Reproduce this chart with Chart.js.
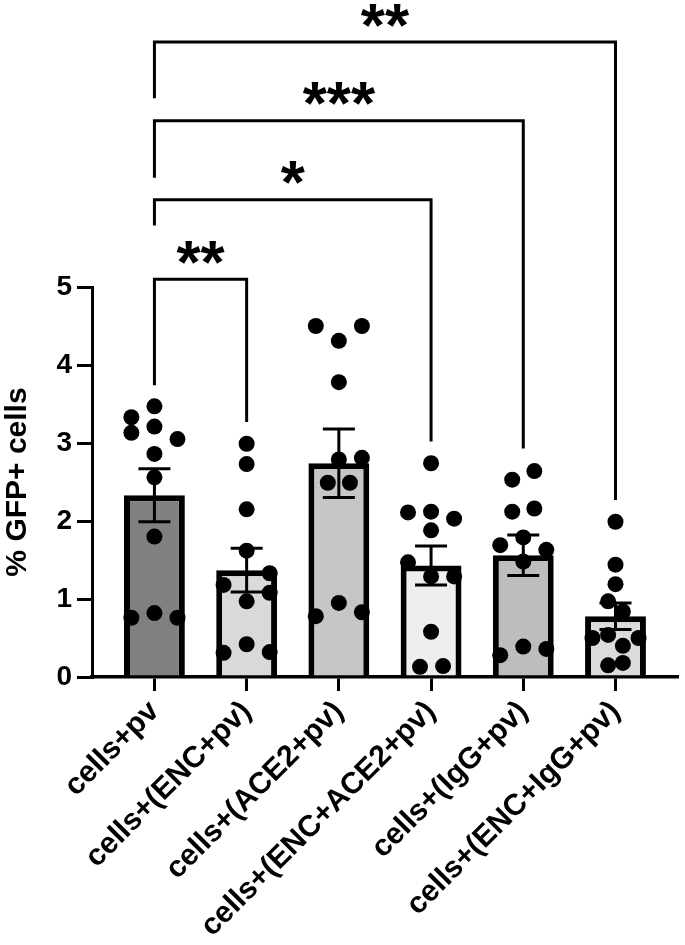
<!DOCTYPE html>
<html>
<head>
<meta charset="utf-8">
<script src="https://cdn.jsdelivr.net/npm/chart.js@4"></script>
<style>
  body { margin: 0; background: #fff; }
  #wrap { width: 685px; height: 945px; }
</style>
</head>
<body>
<div id="wrap"><canvas id="chart" width="685" height="945"></canvas></div>
<script>
// groups on the x axis
const categories = ['cells+pv', 'cells+(ENC+pv)', 'cells+(ACE2+pv)', 'cells+(ENC+ACE2+pv)', 'cells+(IgG+pv)', 'cells+(ENC+IgG+pv)'];

// bar heights (mean) and SEM
const means = [2.33, 1.37, 2.74, 1.43, 1.56, 0.78];
const sems = [0.34, 0.28, 0.44, 0.25, 0.26, 0.17];

// individual replicates per group
const points = [
  [3.47, 3.33, 3.21, 3.13, 3.05, 2.86, 2.56, 1.80, 0.76, 0.82, 0.76],
  [2.99, 2.73, 2.15, 1.62, 1.33, 1.18, 1.08, 0.97, 0.31, 0.42, 0.32],
  [4.50, 4.50, 4.31, 3.78, 2.79, 2.81, 2.49, 2.49, 0.95, 0.78, 0.83],
  [2.74, 2.11, 2.12, 2.03, 1.88, 1.47, 1.29, 1.29, 0.58, 0.13, 0.14],
  [2.64, 2.53, 2.12, 2.16, 1.79, 1.69, 1.63, 1.48, 0.39, 0.28, 0.36],
  [1.99, 1.44, 1.19, 0.97, 0.84, 0.50, 0.54, 0.50, 0.40, 0.15, 0.18]
];

// horizontal scatter of the dots (in category units)
const jitter = [
  [0, -0.25, 0, -0.25, 0.25, 0, 0, 0, -0.25, 0, 0.25],
  [0, 0, 0, 0, 0.25, -0.25, 0.25, 0, -0.25, 0, 0.25],
  [-0.25, 0.25, 0, 0, 0, 0.25, -0.12, 0.12, 0, -0.25, 0.25],
  [0, -0.25, 0, 0.25, 0, -0.25, 0, 0.25, 0, -0.12, 0.13],
  [0.12, -0.12, -0.12, 0.12, 0, -0.25, 0.25, 0, 0, -0.25, 0.25],
  [0, 0, 0, -0.08, 0.08, -0.25, -0.08, 0.25, 0.08, -0.08, 0.08]
];

const barColors = ['#808080', '#d9d9d9', '#c6c6c6', '#eeeeee', '#bdbdbd', '#dbdbdb'];

// significance brackets
const compFrom = [0, 0, 0, 0];
const compTo = [1, 3, 4, 5];
const compLevel = [5.10, 6.12, 7.13, 8.14];
const compLeftEnd = [3.74, 5.79, 6.40, 7.42];
const compRightEnd = [3.27, 3.02, 2.93, 2.27];
const compStars = ['**', '*', '***', '**'];

const FONT = '"Liberation Sans", Arial, sans-serif';

const scatterData = [];
points.forEach((grp, i) => grp.forEach((v, j) => scatterData.push({ x: i + jitter[i][j], y: v })));

const overlay = {
  id: 'overlay',
  afterDatasetsDraw(chart) {
    const ctx = chart.ctx;
    const xs = chart.scales.x, ys = chart.scales.y;
    ctx.save();
    ctx.strokeStyle = '#000';
    ctx.lineWidth = 3;
    ctx.lineCap = 'butt';
    // error bars
    means.forEach((m, i) => {
      const x = xs.getPixelForValue(i);
      const top = ys.getPixelForValue(m + sems[i]);
      const bot = ys.getPixelForValue(m - sems[i]);
      ctx.beginPath();
      ctx.moveTo(x, top); ctx.lineTo(x, bot);
      ctx.moveTo(x - 16, top); ctx.lineTo(x + 16, top);
      ctx.moveTo(x - 16, bot); ctx.lineTo(x + 16, bot);
      ctx.stroke();
    });
    // brackets
    ctx.lineJoin = 'miter';
    ctx.font = 'bold 62px ' + FONT;
    ctx.fillStyle = '#000';
    ctx.textAlign = 'center';
    ctx.textBaseline = 'alphabetic';
    compLevel.forEach((lv, k) => {
      const x1 = xs.getPixelForValue(compFrom[k]);
      const x2 = xs.getPixelForValue(compTo[k]);
      const y = ys.getPixelForValue(lv);
      ctx.beginPath();
      ctx.moveTo(x1, ys.getPixelForValue(compLeftEnd[k]));
      ctx.lineTo(x1, y);
      ctx.lineTo(x2, y);
      ctx.lineTo(x2, ys.getPixelForValue(compRightEnd[k]));
      ctx.stroke();
      const m = ctx.measureText(compStars[k]);
      const cy = y - 27;
      const base = cy + (m.actualBoundingBoxAscent - m.actualBoundingBoxDescent) / 2;
      ctx.fillText(compStars[k], (x1 + x2) / 2, base);
    });
    ctx.restore();
  }
};

new Chart(document.getElementById('chart'), {
  type: 'bar',
  data: {
    datasets: [
      {
        type: 'scatter',
        data: scatterData,
        backgroundColor: '#000',
        borderWidth: 0,
        pointRadius: 8,
        pointHoverRadius: 8,
        order: 1
      },
      {
        type: 'bar',
        data: means.map((m, i) => ({ x: i, y: m })),
        backgroundColor: barColors,
        borderColor: '#000',
        borderWidth: 6,
        borderSkipped: 'bottom',
        barPercentage: 0.66,
        categoryPercentage: 1,
        order: 2
      }
    ]
  },
  options: {
    responsive: false,
    animation: false,
    layout: { padding: { top: 287, right: 3, left: 0, bottom: 0 } },
    plugins: { legend: { display: false }, tooltip: { enabled: false } },
    scales: {
      x: {
        type: 'linear',
        position: 'bottom',
        offset: false,
        min: -0.677,
        max: 5.667,
        afterBuildTicks: s => { s.ticks = categories.map((c, i) => ({ value: i })); },
        afterFit: s => { s.height = 268; },
        ticks: {
          autoSkip: false,
          minRotation: 45,
          maxRotation: 45,
          padding: 3,
          color: '#000',
          font: { family: FONT, size: 30, weight: 'bold' },
          callback: v => categories[v]
        },
        grid: { offset: false, drawOnChartArea: false, tickLength: 14, lineWidth: 3, color: '#000' },
        border: { display: true, width: 3.5, color: '#000' }
      },
      y: {
        min: 0,
        max: 5,
        afterFit: s => { s.width = 92; },
        ticks: {
          stepSize: 1,
          padding: 5,
          color: '#000',
          font: { family: FONT, size: 28, weight: 'bold' }
        },
        grid: { drawOnChartArea: false, tickLength: 15, lineWidth: 3, color: '#000' },
        border: { display: true, width: 3, color: '#000' },
        title: {
          display: true,
          text: '% GFP+ cells',
          color: '#000',
          padding: 0,
          font: { family: FONT, size: 30, weight: 'bold' }
        }
      }
    }
  },
  plugins: [overlay]
});
</script>
</body>
</html>
